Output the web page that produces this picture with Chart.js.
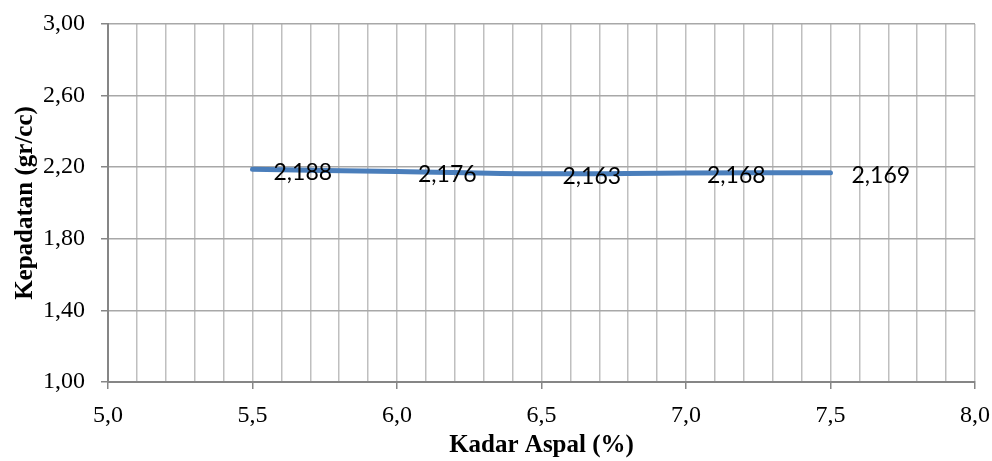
<!DOCTYPE html>
<html>
<head>
<meta charset="utf-8">
<script src="https://cdn.jsdelivr.net/npm/chart.js@4"></script>
<style>
  html, body { margin: 0; padding: 0; background: #fff; }
  #wrap { width: 992px; height: 461px; position: relative; }
</style>
</head>
<body>
<div id="wrap"><canvas id="c" width="992" height="461"></canvas></div>
<script>
// Data
const kadarAspal = [5.5, 6.0, 6.5, 7.0, 7.5];
const kepadatan = [2.188, 2.176, 2.163, 2.168, 2.169];
const dataLabels = ['2,188', '2,176', '2,163', '2,168', '2,169'];
const xTitle = 'Kadar Aspal (%)';
const yTitle = 'Kepadatan (gr/cc)';
const xMin = 5.0, xMax = 8.0, xGridStep = 0.1, xLabelStep = 0.5;
const yMin = 1.0, yMax = 3.0, yStep = 0.4;

const points = kadarAspal.map((x, i) => ({ x: x, y: kepadatan[i] }));

const isMajorX = v => Math.abs(v / xLabelStep - Math.round(v / xLabelStep)) < 1e-6;

const labelPlugin = {
  id: 'valueLabels',
  afterDatasetsDraw(chart) {
    const ctx = chart.ctx;
    const meta = chart.getDatasetMeta(0);
    ctx.save();
    ctx.font = '23px Lato, "Open Sans", sans-serif';
    ctx.fillStyle = '#000';
    ctx.textAlign = 'left';
    ctx.textBaseline = 'middle';
    meta.data.forEach((pt, i) => {
      ctx.fillText(dataLabels[i], pt.x + 21, pt.y + 3);
    });
    ctx.restore();
  }
};

new Chart(document.getElementById('c'), {
  type: 'scatter',
  data: {
    datasets: [{
      data: points,
      showLine: true,
      borderColor: '#4a7ebb',
      borderWidth: 5,
      tension: 0.4,
      pointRadius: 0,
      pointHoverRadius: 0,
      borderCapStyle: 'round',
      fill: false
    }]
  },
  options: {
    responsive: false,
    animation: false,
    devicePixelRatio: 1,
    layout: { autoPadding: false, padding: { left: 0, right: 17, top: 24, bottom: 0 } },
    plugins: { legend: { display: false }, tooltip: { enabled: false } },
    scales: {
      x: {
        type: 'linear',
        min: xMin, max: xMax,
        afterFit(scale) { scale.height = 79; scale.paddingLeft = 0; scale.paddingRight = 0; },
        afterBuildTicks(scale) {
          const t = [];
          for (let i = 0; i <= Math.round((xMax - xMin) / xGridStep); i++) {
            t.push({ value: +(xMin + i * xGridStep).toFixed(2) });
          }
          scale.ticks = t;
        },
        ticks: {
          autoSkip: false,
          maxRotation: 0,
          padding: 12,
          color: '#000',
          font: { family: '"Liberation Serif", "Times New Roman", serif', size: 24 },
          callback: v => isMajorX(v) ? v.toFixed(1).replace('.', ',') : ''
        },
        grid: {
          color: '#bfbfbf',
          lineWidth: 1.5,
          tickLength: 7,
          tickColor: ctx => (ctx.tick && isMajorX(ctx.tick.value)) ? '#868686' : 'rgba(0,0,0,0)',
          tickWidth: 1.5
        },
        border: { color: '#868686', width: 2 },
        title: {
          display: true,
          text: xTitle,
          color: '#000',
          font: { family: '"Liberation Serif", "Times New Roman", serif', size: 25, weight: 'bold' },
          padding: { top: 0, bottom: 0 }
        }
      },
      y: {
        type: 'linear',
        min: yMin, max: yMax,
        afterFit(scale) { scale.width = 108; scale.paddingTop = 0; scale.paddingBottom = 0; },
        ticks: {
          stepSize: yStep,
          padding: 16,
          color: '#000',
          font: { family: '"Liberation Serif", "Times New Roman", serif', size: 24 },
          callback: v => v.toFixed(2).replace('.', ',')
        },
        grid: {
          color: '#a8a8a8',
          lineWidth: 1.5,
          tickLength: 7,
          tickColor: '#868686',
          tickWidth: 1.5
        },
        border: { color: '#868686', width: 2 },
        title: {
          display: true,
          text: yTitle,
          color: '#000',
          font: { family: '"Liberation Serif", "Times New Roman", serif', size: 25, weight: 'bold' },
          padding: { top: 11, bottom: 0 }
        }
      }
    }
  },
  plugins: [labelPlugin]
});
</script>
</body>
</html>
